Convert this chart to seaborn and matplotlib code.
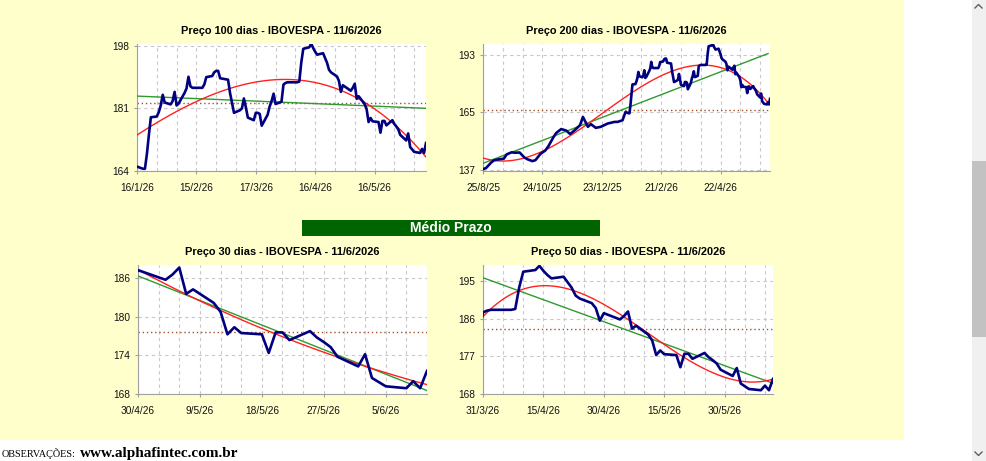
import numpy as np
import pandas as pd
import matplotlib
matplotlib.use("Agg")
import matplotlib.pyplot as plt
import matplotlib.ticker as mticker
from matplotlib.patches import Rectangle
from matplotlib.lines import Line2D
import seaborn as sns

plt.rcParams["font.family"] = ["Liberation Sans", "DejaVu Sans"]

# B3 closed days inside the window
HOLIDAYS = ["2025-11-20", "2025-12-24", "2025-12-25", "2025-12-31", "2026-01-01",
            "2026-02-16", "2026-02-17", "2026-04-03", "2026-04-21", "2026-05-01",
            "2026-06-04"]
LAST_DAY = "2026-06-11"

# every 3rd session 25/8/25 .. 13/1/26
close_2025 = [137.4, 137.9, 140.5, 141.7, 142.2, 142.5, 144.6, 145.6, 145.4, 145.5,
              143.0, 142.2, 141.3, 141.8, 144.8, 146.5, 148.5, 152.8, 155.0, 156.9,
              156.2, 154.5, 156.5, 158.8, 162.8, 158.0, 159.3, 157.5, 158.0, 159.6,
              160.4, 160.4, 161.2]
# daily closes from 16/1/26
close_jan = [165.2, 164.6, 164.6, 168.6, 173.8, 178.6, 178.8, 180.0, 181.8, 184.7, 182.6]
close_feb = [182.1, 183.0, 185.5, 181.8, 182.3, 185.2, 186.4, 189.6, 187.0, 186.6,
             186.6, 187.5, 189.5, 189.8, 190.8, 191.2, 191.2, 189.2]
close_mar = [188.9, 188.8, 185.2, 182.5, 179.8, 180.5, 181.0, 183.7, 181.3, 178.5,
             177.8, 179.8, 179.8, 179.5, 176.3, 179.3, 181.5, 183.0, 185.0, 182.2,
             182.8, 187.5]
close_apr = [187.9, 188.1, 188.1, 188.1, 188.3, 193.5, 197.2, 197.6, 198.6, 197.4,
             196.4, 195.6, 196.0, 193.4, 191.5, 190.8, 189.7, 188.5, 185.5, 187.3]
close_may = [185.8, 186.6, 187.7, 183.6, 184.3, 182.2, 180.8, 177.3, 178.4, 177.5,
             177.3, 174.4, 177.6, 177.6, 176.4, 177.8, 176.8, 176.1, 175.3, 173.8]
close_jun = [172.3, 174.2, 170.5, 169.2, 168.9, 170.0, 168.9, 171.6]

titles = ["Preço 100 dias - IBOVESPA - 11/6/2026", "Preço 200 dias - IBOVESPA - 11/6/2026",
          "Preço 30 dias - IBOVESPA - 11/6/2026", "Preço 50 dias - IBOVESPA - 11/6/2026"]
window_start = ["2026-01-16", "2025-08-25", "2026-04-30", "2026-03-31"]
label_step = [30, 60, 9, 15]          # days between date labels
ytick_values = [[164, 181, 198], [137, 165, 193], [168, 174, 180, 186], [168, 177, 186, 195]]
ylims = [(164, 198.5), (136.5, 198.3), (168, 188.1), (168, 198.8)]
mean_levels = [182.6, 166.1, 177.7, 183.6]

sessions = pd.bdate_range("2025-08-25", LAST_DAY, freq="C", holidays=HOLIDAYS)
early_days = sessions[sessions < "2026-01-16"][::3]
recent_days = sessions[sessions >= "2026-01-16"]
recent_close = np.array(close_jan + close_feb + close_mar + close_apr + close_may + close_jun)

W, H = 987, 461
boxes = [(137, 44, 426, 171), (483, 44, 770, 171), (138, 265, 427, 394), (483, 265, 773, 394)]

fig = plt.figure(figsize=(W / 100, H / 100), dpi=100)
fig.patch.set_facecolor("white")
fig.add_artist(Rectangle((0, 1 - 440 / H), 904 / W, 440 / H, transform=fig.transFigure,
                         facecolor="#FFFFCC", edgecolor="none", zorder=-5))

NAVY, RED, GREEN, BROWN, GRID = "#000080", "#FF2020", "#2F9A2F", "#A0522D", "#C8C8C8"

for i, (x0, y0, x1, y1) in enumerate(boxes):
    ax = fig.add_axes([x0 / W, 1 - y1 / H, (x1 - x0) / W, (y1 - y0) / H])
    ax.set_facecolor("white")
    base = pd.Timestamp(window_start[i])
    span = (pd.Timestamp(LAST_DAY) - base).days

    if window_start[i] < "2026-01-16":
        days = early_days.append(recent_days)
        close = np.concatenate([close_2025, recent_close])
        fit_days = early_days.append(recent_days[::3])
        fit_close = np.concatenate([close_2025, recent_close[::3]])
    else:
        # the window also holds the session just before the first date shown
        first = max(np.searchsorted(recent_days, base) - 1, 0)
        days, close = recent_days[first:], recent_close[first:]
        fit_days, fit_close = days, close

    x = np.asarray((days - base).days, dtype=float)
    xf = np.asarray((fit_days - base).days, dtype=float)

    ax.axhline(mean_levels[i], color=BROWN, lw=1.0, ls=(0, (1, 2)), zorder=2)
    sns.regplot(x=xf, y=fit_close, order=1, scatter=False, ci=None, ax=ax,
                color=GREEN, line_kws={"lw": 1.0, "zorder": 3})
    sns.regplot(x=xf, y=fit_close, order=3, scatter=False, ci=None, ax=ax,
                color=RED, line_kws={"lw": 1.0, "zorder": 4})
    sns.lineplot(x=x, y=close, color=NAVY, lw=1.9, ax=ax, zorder=5)

    ax.set_xlim(0, span)
    ax.set_ylim(*ylims[i])
    step = label_step[i]
    major = np.arange(0, span + 1, step)
    minor = np.array([d for d in np.arange(0, span + 1, step / 3) if d % step])
    ax.set_xticks(major)
    ax.set_xticks(minor, minor=True)
    ax.xaxis.set_major_formatter(mticker.FuncFormatter(
        lambda v, pos, b=base: "{0.day}/{0.month}/{1:02d}".format(
            b + pd.Timedelta(days=v), (b + pd.Timedelta(days=v)).year % 100)))
    ax.set_yticks(ytick_values[i])
    ax.grid(True, which="both", axis="x", color=GRID, lw=0.8, ls=(0, (3, 3)))
    ax.grid(True, which="major", axis="y", color=GRID, lw=0.8, ls=(0, (3, 3)))
    ax.set_axisbelow(True)
    for s in ("top", "right"):
        ax.spines[s].set_visible(False)
    for s in ("left", "bottom"):
        ax.spines[s].set_color("#A0A0A0")
        ax.spines[s].set_linewidth(0.8)
    ax.tick_params(axis="both", which="major", length=2.5, color="#A0A0A0",
                   labelsize=7.3, labelcolor="#111111")
    ax.tick_params(axis="x", which="major", pad=6.0)
    ax.tick_params(axis="y", which="major", pad=3.0)
    ax.tick_params(which="minor", length=0)
    ax.set_xlabel("")
    ax.set_ylabel("")
    ax.set_title(titles[i], fontsize=7.9, fontweight="bold", pad=7.5)

# "Médio Prazo" banner
fig.add_artist(Rectangle((302 / W, 1 - 236 / H), 298 / W, 16 / H, transform=fig.transFigure,
                         facecolor="#006400", edgecolor="none"))
fig.text(451 / W, 1 - 228 / H, "Médio Prazo", color="white", fontsize=10,
         fontweight="bold", ha="center", va="center")

fig.text(2 / W, 1 - 457 / H, "OBSERVAÇÕES:", fontsize=7.4, family="Liberation Serif",
         va="baseline", ha="left")
fig.text(80 / W, 1 - 457 / H, "www.alphafintec.com.br", fontsize=11, fontweight="bold",
         family="Liberation Serif", va="baseline", ha="left")

# browser scrollbar on the right
fig.add_artist(Rectangle((972 / W, 0), 15 / W, 1, transform=fig.transFigure,
                         facecolor="#F0F0F0", edgecolor="none"))
fig.add_artist(Rectangle((972 / W, 1 - 337 / H), 15 / W, 176 / H, transform=fig.transFigure,
                         facecolor="#C2C2C2", edgecolor="none"))
fig.add_artist(Line2D([975 / W, 978.5 / W, 982 / W], [1 - 8 / H, 1 - 4.5 / H, 1 - 8 / H],
                      transform=fig.transFigure, color="#606060", lw=1))
fig.add_artist(Line2D([975 / W, 978.5 / W, 982 / W], [1 - 452 / H, 1 - 455.5 / H, 1 - 452 / H],
                      transform=fig.transFigure, color="#606060", lw=1))

fig.savefig("out.png", dpi=100, facecolor=fig.get_facecolor())
